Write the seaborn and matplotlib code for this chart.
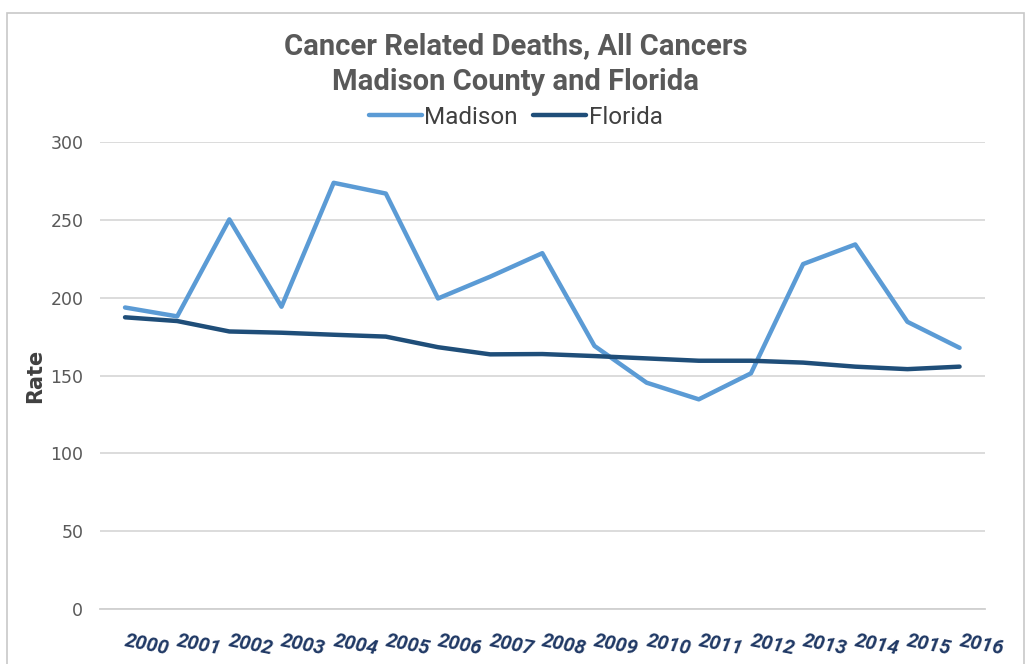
import pandas as pd
import matplotlib.pyplot as plt
import seaborn as sns
from matplotlib.patches import Rectangle

# datos
years = [str(y) for y in range(2000, 2017)]
madison = [193.7, 188.0, 250.3, 194.2, 273.8, 266.9, 199.5, 213.5, 228.6, 169.0,
           145.4, 134.7, 151.4, 221.6, 234.2, 184.5, 167.8]
florida = [187.4, 185.0, 178.3, 177.5, 176.2, 175.0, 168.2, 163.6, 163.8, 162.5,
           161.0, 159.5, 159.5, 158.3, 155.7, 154.1, 155.7]
series = ["Madison", "Florida"]
colors = {"Madison": "#5B9BD5", "Florida": "#1F4E79"}

df = pd.DataFrame({
    "Year": years * 2,
    "Rate": madison + florida,
    "Area": ["Madison"] * len(years) + ["Florida"] * len(years),
})

sns.set_style("white")
plt.rcParams['font.family'] = ['DejaVu Sans']
narrow = ['Roboto', 'DejaVu Sans']

fig = plt.figure(figsize=(10.31, 6.64), dpi=100)
ax = fig.add_axes([0.097, 0.0828, 0.858, 0.7033])

sns.lineplot(data=df, x="Year", y="Rate", hue="Area", hue_order=series,
             palette=colors, linewidth=3.2, sort=False, ax=ax, legend=False)

ax.set_xlim(-0.48, len(years) - 1 + 0.48)
ax.set_ylim(0, 300)
ax.set_yticks(range(0, 301, 50))
ax.yaxis.grid(True, color="#d9d9d9", linewidth=1.3)
ax.set_axisbelow(True)
for s in ["top", "right", "left"]:
    ax.spines[s].set_visible(False)
ax.spines["bottom"].set_color("#d0d0d0")
ax.spines["bottom"].set_linewidth(1.3)
ax.tick_params(axis="both", length=0)
ax.tick_params(axis="y", labelsize=12.5, labelcolor="#595959", pad=12)

ax.set_xticks(range(len(years)))
ax.set_xticklabels(years, fontsize=14.5, color="#1F3864", style="italic",
                   fontweight="semibold", family=narrow,
                   rotation=-11, rotation_mode="anchor", ha="left", va="center")
ax.tick_params(axis="x", pad=23)
ax.set_xlabel("")
ax.set_ylabel("Rate", fontsize=15, fontweight="bold", color="#404040", labelpad=4)

# titulo
fig.text(0.5, 1 - 46 / 664, "Cancer Related Deaths, All Cancers", ha="center", va="center",
         fontsize=21, fontweight="bold", color="#595959", family=narrow)
fig.text(0.5, 1 - 82 / 664, "Madison County and Florida", ha="center", va="center",
         fontsize=21, fontweight="bold", color="#595959", family=narrow)

# leyenda
handles = [plt.Line2D([], [], color=colors[s], linewidth=3.2) for s in series]
fig.legend(handles, series, loc="center", bbox_to_anchor=(0.5, 1 - 117 / 664),
           ncol=2, frameon=False, handlelength=2.2, handletextpad=0.1,
           columnspacing=0.6, labelcolor="#404040",
           prop={"family": narrow, "size": 17.5})

# marco gris
fig.add_artist(Rectangle((7 / 1031, -0.05), (1024 - 7) / 1031, 1.05 - 13 / 664,
                         transform=fig.transFigure, fill=False, edgecolor="#c8c8c8",
                         linewidth=1.2))

plt.savefig("out.png", dpi=100)
